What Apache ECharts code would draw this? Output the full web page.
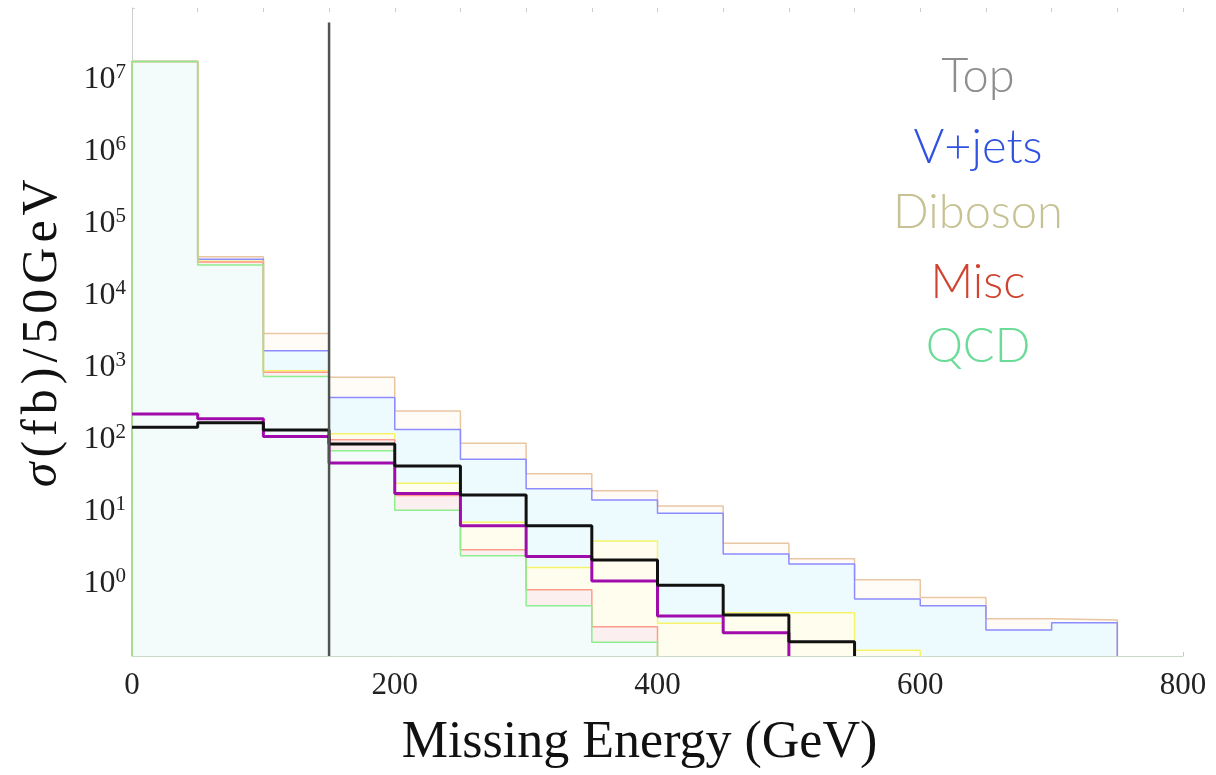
<!DOCTYPE html>
<html>
<head>
<meta charset="utf-8">
<script src="https://cdn.jsdelivr.net/npm/echarts@6/dist/echarts.min.js"></script>
<style>html,body{margin:0;padding:0;background:#fff;}#c{width:1216px;height:775px;}</style>
</head>
<body>
<div id="c"></div>
<script>
// ---- data ----
const binStarts = [0, 50, 100, 150, 200, 250, 300, 350, 400, 450, 500, 550, 600, 650, 700];
const binWidth = 50;
// cumulative stack tops (outermost first)
const layerTan    = [1.8e7, 35000, 3020, 745, 252, 90, 34, 19.8, 12.1, 3.67, 2.25, 1.15, 0.65, 0.33, 0.316];
const layerBlue   = [1.8e7, 32500, 1740, 390, 140, 54, 21, 14.7, 9.6, 2.6, 1.9, 0.62, 0.50, 0.23, 0.29];
const layerYellow = [1.8e7, 30500, 915, 122, 25, 7.2, 1.7, 3.96, 0.285, 0.40, 0.40, 0.12];
const layerRed    = [1.8e7, 29700, 870, 101, 17, 3.0, 0.83, 0.255];
const layerGreen  = [1.8e7, 26900, 760, 71, 10.6, 2.47, 0.50, 0.155];
// signal curves
const signalBlack  = [150, 174, 138, 88, 43.6, 17.2, 6.45, 2.15, 0.96, 0.37, 0.158];
const signalPurple = [230, 198, 112, 48, 18.1, 6.45, 2.4, 1.1, 0.36, 0.21];
// cut line
const cutX = 150;
const cutTop = 6.3e7;
// axes
const yMin = 0.1, yMax = 1e8;
const xMin = 0, xMax = 800;
const legendNames = ['Top', 'V+jets', 'Diboson', 'Misc', 'QCD'];
const xTitle = 'Missing Energy (GeV)';
const yTitleChars = ['σ', '(', 'f', 'b', ')', '/', '5', '0', 'G', 'e', 'V'];

function steps(vals, closeStart) {
  const pts = [];
  if (closeStart) pts.push([binStarts[0], yMin]);
  vals.forEach((v, i) => {
    pts.push([binStarts[i], v]);
    pts.push([binStarts[i] + binWidth, v]);
  });
  pts.push([binStarts[vals.length - 1] + binWidth, yMin]);
  return pts;
}

const layers = [
  {d: layerTan,    line: '#e9c6a2', fill: '#fffbf6'},
  {d: layerBlue,   line: '#8c8cff', fill: '#eefbfe'},
  {d: layerYellow, line: '#f6f36a', fill: '#fffdee'},
  {d: layerRed,    line: '#ff9c8c', fill: '#fcefef'},
  {d: layerGreen,  line: '#8eee8e', fill: '#f3fcfb'}
];

const series = layers.map(l => ({
  type: 'line', data: steps(l.d, true), showSymbol: false, symbol: 'none',
  lineStyle: {color: l.line, width: 1.5}, areaStyle: {color: l.fill, opacity: 1},
  silent: true
}));
series.push({type: 'line', data: steps(signalPurple, false), symbol: 'none',
  lineStyle: {color: '#a00cac', width: 3}, silent: true});
series.push({type: 'line', data: steps(signalBlack, false), symbol: 'none',
  lineStyle: {color: '#111111', width: 3}, silent: true});
series.push({type: 'line', data: [[cutX, yMin], [cutX, cutTop]], symbol: 'none',
  lineStyle: {color: '#4f544f', width: 2.5}, silent: true});

const legendColors = ['#8d8d8d', '#2f52e0', '#c6c293', '#d0432f', '#6adc98'];
const legendY = [77, 148, 213, 283, 347];
const graphic = legendNames.map((n, i) => ({
  type: 'text', x: 978, y: legendY[i],
  style: {text: n, fill: legendColors[i], font: '300 47px Lato', align: 'center', verticalAlign: 'middle'}
}));

const serif = 'Liberation Serif';
const yTitle = yTitleChars.map((c, i) => (i === 0 ? '{i|' : '{c|') + c + '}').join('');

const option = {
  animation: false,
  backgroundColor: '#fff',
  grid: {left: 132, right: 33, top: 8, bottom: 119, containLabel: false},
  xAxis: [{
    type: 'value', min: xMin, max: xMax, interval: 50,
    axisLine: {show: true, lineStyle: {color: '#cdd8cd', width: 1}},
    axisTick: {show: true, inside: true, length: 4, lineStyle: {color: '#c8c8c8'}},
    splitLine: {show: false},
    axisLabel: {margin: 14, fontFamily: serif, fontSize: 31, color: '#222',
      formatter: v => (v % 200 === 0 ? String(v) : '')},
    name: xTitle, nameLocation: 'middle', nameGap: 61,
    nameTextStyle: {fontFamily: serif, fontSize: 52, color: '#111', padding: [0, 36, 0, 0]}
  }, {
    type: 'value', position: 'top', min: xMin, max: xMax, interval: 50,
    axisLine: {show: false},
    axisTick: {show: true, inside: true, length: 4, lineStyle: {color: '#cccccc'}},
    axisLabel: {show: false}, splitLine: {show: false}
  }],
  yAxis: [{
    type: 'log', logBase: 10, min: yMin, max: yMax,
    axisLine: {show: true, lineStyle: {color: '#cdd8cd', width: 1}},
    axisTick: {show: true, inside: true, length: 3, lineStyle: {color: '#b8e8b8'}},
    splitLine: {show: false},
    axisLabel: {margin: 6,
      formatter: v => {
        const e = Math.round(Math.log10(v));
        if (e < 0 || e > 7) return '';
        return '{b|10}{s|' + e + '}';
      },
      rich: {
        b: {fontFamily: serif, fontSize: 32, color: '#222'},
        s: {fontFamily: serif, fontSize: 21, color: '#222', padding: [0, 0, 16, 0]}
      }
    },
    name: yTitle, nameLocation: 'middle', nameGap: 64, nameRotate: 90,
    nameTextStyle: {fontFamily: serif, fontSize: 50, color: '#111',
      rich: {
        i: {fontFamily: serif, fontSize: 50, fontStyle: 'italic', color: '#111', padding: [0, 2.5, 0, 0]},
        c: {fontFamily: serif, fontSize: 50, color: '#111', padding: [0, 2.5, 0, 2.5]}
      }}
  }, {
    type: 'log', logBase: 10, min: yMin, max: yMax, position: 'right',
    axisLine: {show: true, lineStyle: {color: '#d0d0d0', width: 1}},
    axisTick: {show: false}, axisLabel: {show: false}, splitLine: {show: false}
  }],
  graphic: graphic,
  series: series
};

const chart = echarts.init(document.getElementById('c'), null, {renderer: 'canvas'});
chart.setOption(option);
</script>
</body>
</html>
